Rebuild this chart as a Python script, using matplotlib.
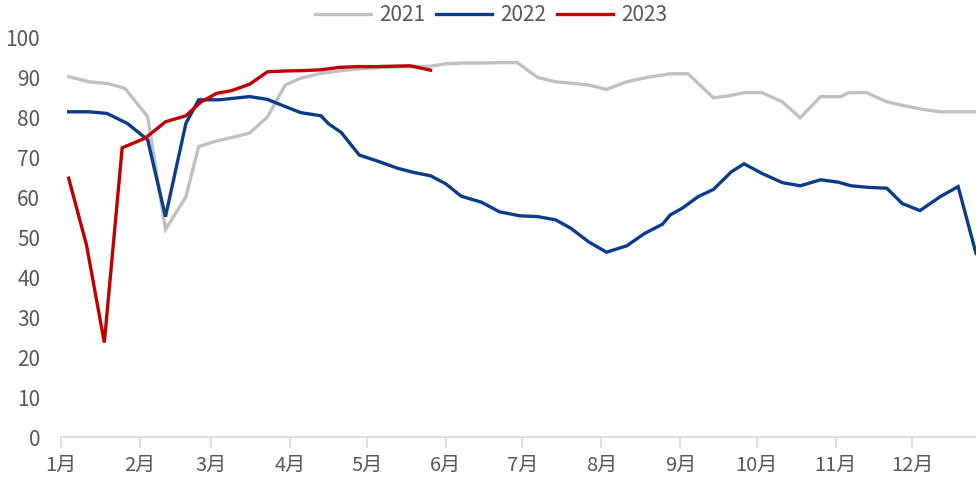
import matplotlib
matplotlib.use('Agg')
import matplotlib.pyplot as plt

plt.rcParams['font.family'] = ['Noto Sans CJK SC', 'DejaVu Sans']

# day of year / weekly value
days_2021 = [3, 11, 18, 25, 34, 41, 49, 54, 61, 68, 74, 81, 88, 94, 102, 109, 116, 123,
             131, 138, 145, 151, 158, 165, 172, 179, 187, 194, 201, 207, 214, 222, 230,
             239, 246, 256, 262, 268, 275, 283, 290, 298, 306, 309, 316, 324, 331, 338,
             345, 352, 359]
vals_2021 = [90.1, 88.8, 88.4, 87.2, 80.1, 51.9, 60.0, 72.6, 74.0, 75.0, 76.0, 80.0, 88.0,
             89.7, 90.9, 91.5, 92.0, 92.3, 92.5, 92.6, 92.7, 93.3, 93.5, 93.5, 93.6, 93.6,
             89.9, 88.8, 88.4, 88.0, 86.9, 88.8, 89.9, 90.8, 90.8, 84.8, 85.3, 86.1, 86.1,
             83.8, 79.8, 85.1, 85.1, 86.1, 86.1, 83.8, 82.8, 81.9, 81.3, 81.3, 81.3]

days_2022 = [3, 11, 18, 26, 34, 41, 49, 54, 62, 74, 81, 88, 94, 102, 105, 110, 117, 125,
             132, 138, 145, 151, 157, 165, 172, 180, 187, 194, 200, 207, 214, 222, 229,
             236, 239, 244, 250, 256, 263, 268, 275, 283, 290, 298, 305, 310, 317, 324,
             330, 337, 345, 352, 359]
vals_2022 = [81.3, 81.3, 80.9, 78.4, 74.3, 55.1, 78.4, 84.3, 84.3, 85.1, 84.4, 82.6, 81.1,
             80.3, 78.3, 76.1, 70.5, 68.8, 67.2, 66.2, 65.3, 63.3, 60.2, 58.7, 56.3, 55.3,
             55.1, 54.3, 52.2, 48.8, 46.2, 47.8, 50.9, 53.2, 55.5, 57.3, 60.1, 61.9, 66.3,
             68.3, 65.9, 63.6, 62.8, 64.3, 63.7, 62.8, 62.4, 62.2, 58.4, 56.6, 60.1, 62.6,
             45.9]

days_2023 = [3, 10, 17, 24, 33, 41, 49, 55, 61, 67, 74, 81, 88, 95, 102, 109, 116, 123,
             130, 137, 145]
vals_2023 = [64.7, 48.0, 23.6, 72.3, 74.7, 78.8, 80.3, 83.8, 85.9, 86.6, 88.2, 91.3, 91.5,
             91.6, 91.8, 92.4, 92.6, 92.6, 92.7, 92.8, 91.7]

month_starts = [0, 31, 59, 90, 120, 151, 181, 212, 243, 273, 304, 334]
month_labels = [f'{m}月' for m in range(1, 13)]

fig = plt.figure(figsize=(9.76, 4.83), dpi=100)
ax = fig.add_axes([61 / 976, 1 - 437 / 483, 1 - 61 / 976, 400 / 483])

ax.plot(days_2021, vals_2021, color='#c0c0c0', lw=2.4, label='2021', solid_joinstyle='miter')
ax.plot(days_2022, vals_2022, color='#0b3c88', lw=2.4, label='2022', solid_joinstyle='miter')
ax.plot(days_2023, vals_2023, color='#c00000', lw=2.4, label='2023', solid_joinstyle='miter')

ax.set_xlim(0, 359)
ax.set_ylim(0, 100)
ax.set_yticks(range(0, 101, 10))
ax.set_xticks(month_starts)
ax.set_xticklabels(month_labels)

for s in ['top', 'right', 'left']:
    ax.spines[s].set_visible(False)
ax.spines['bottom'].set_color('#d9d9d9')
ax.spines['bottom'].set_linewidth(1.2)
ax.tick_params(axis='x', colors='#d9d9d9', length=8, width=1.2, labelcolor='#595959',
               labelsize=14.5, pad=5)
ax.tick_params(axis='y', length=0, labelcolor='#595959', labelsize=15, pad=15)

fig.legend(loc='upper center', bbox_to_anchor=(0.503, 1.03), ncol=3, frameon=False,
           fontsize=15, handlelength=2.7, columnspacing=0.5, handletextpad=0.4,
           labelcolor='#595959')

fig.savefig('out.png', dpi=100)
